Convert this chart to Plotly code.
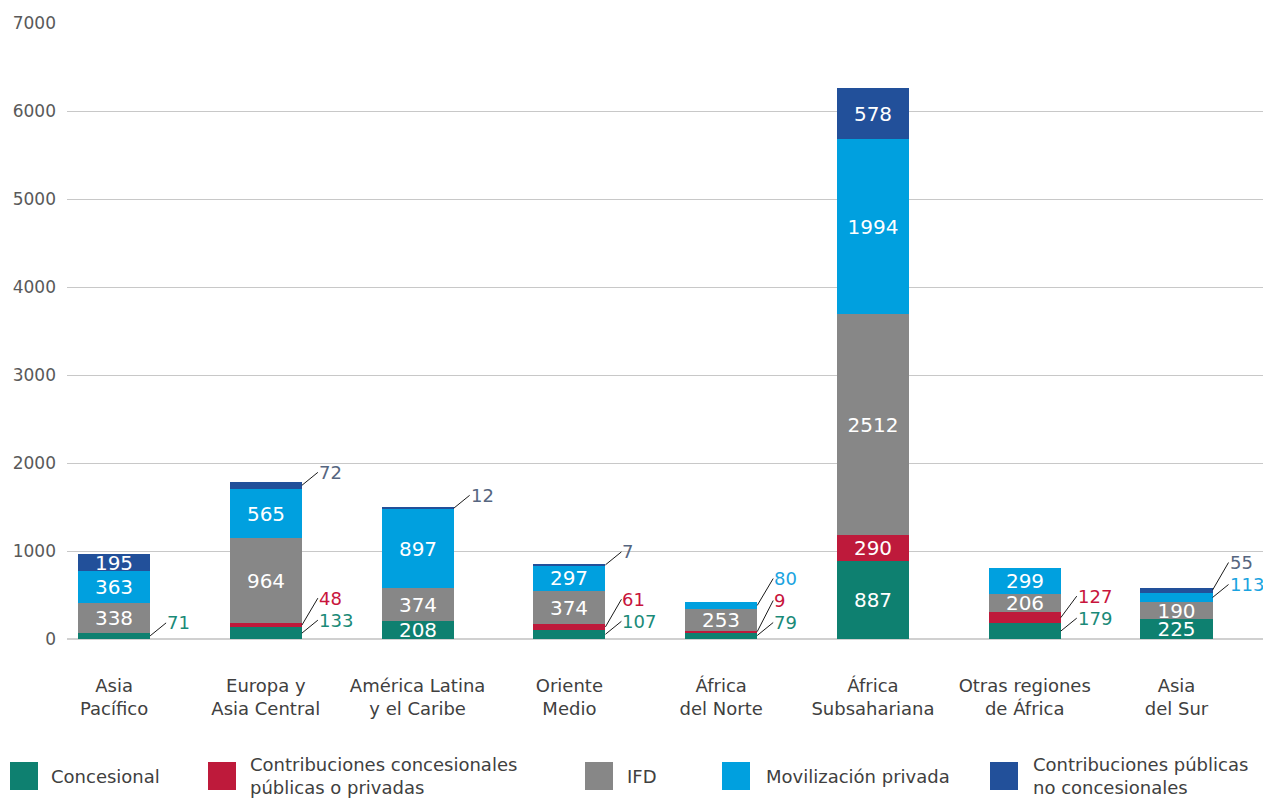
import plotly.graph_objects as go

# ---------------- data ----------------
categories = ["Asia<br>Pacífico", "Europa y<br>Asia Central", "América Latina<br>y el Caribe",
              "Oriente<br>Medio", "África<br>del Norte", "África<br>Subsahariana",
              "Otras regiones<br>de África", "Asia<br>del Sur"]
series_names = ["Concesional",
                "Contribuciones concesionales<br>públicas o privadas",
                "IFD",
                "Movilización privada",
                "Contribuciones públicas<br>no concesionales"]
concesional = [71, 133, 208, 107, 79, 887, 179, 225]
contrib_concesionales = [0, 48, 0, 61, 9, 290, 127, 0]
ifd = [338, 964, 374, 374, 253, 2512, 206, 190]
movilizacion_privada = [363, 565, 897, 297, 80, 1994, 299, 113]
contrib_no_concesionales = [195, 72, 12, 7, 0, 578, 0, 55]
y_ticks = [0, 1000, 2000, 3000, 4000, 5000, 6000, 7000]

series_values = [concesional, contrib_concesionales, ifd, movilizacion_privada, contrib_no_concesionales]

# ---------------- style ----------------
colors = ["#0e8070", "#be1a3b", "#878787", "#00a0df", "#22509a"]
label_colors = ["#1a8a78", "#c8143c", "#878787", "#1aa3e0", "#566680"]
FONT = "DejaVu Sans"
W, H = 1263, 798
ML, MR, MT, MB = 67, 0, 23, 159
PLOT_W = W - ML - MR
PLOT_H = H - MT - MB
Y_MAX = 7000
X_RANGE = [-0.31, 7.57]
BAR_W = 0.475
INSIDE_MIN = 185

x = list(range(len(categories)))

fig = go.Figure()
for k, (name, vals) in enumerate(zip(series_names, series_values)):
    texts = [str(v) if v >= INSIDE_MIN else "" for v in vals]
    fig.add_trace(go.Bar(
        x=x, y=vals, name=name, width=BAR_W,
        marker=dict(color=colors[k], line=dict(width=0)),
        text=texts, textposition="inside", insidetextanchor="middle",
        textangle=0, constraintext="none",
        insidetextfont=dict(family=FONT, size=20, color="white"),
        showlegend=False, hoverinfo="skip",
    ))

# ---------------- outside labels with leader lines ----------------
ppu = PLOT_H / Y_MAX
annotations = []
for i in x:
    base = 0
    items = []
    for k, vals in enumerate(series_values):
        v = vals[i]
        if 0 < v < INSIDE_MIN:
            items.append((base + v / 2, v, k))
        base += v
    items.sort()
    prev = -1e9
    for head, v, k in items:
        h = head * ppu
        L = max(h + 13, prev + 22)
        prev = L
        annotations.append(dict(
            x=i + BAR_W / 2, y=head, xref="x", yref="y",
            text=str(v), showarrow=True, arrowhead=0, arrowwidth=1,
            arrowcolor="#1a1a1a", ax=16, ay=-(L - h), standoff=0,
            xanchor="left", yanchor="middle", borderpad=0,
            font=dict(family=FONT, size=18, color=label_colors[k]),
        ))

# ---------------- custom legend ----------------
def px_to_paper_x(px):
    return (px - ML) / PLOT_W

def px_to_paper_y(py):
    return (H - MB - py) / PLOT_H

swatch_left = [10, 208, 585, 722, 990]
text_left = [49, 248, 625, 764, 1031]
leg_y = 776
sw = 28
shapes = []
for k, name in enumerate(series_names):
    shapes.append(dict(
        type="rect", xref="paper", yref="paper",
        x0=px_to_paper_x(swatch_left[k]), x1=px_to_paper_x(swatch_left[k] + sw),
        y0=px_to_paper_y(leg_y + sw / 2), y1=px_to_paper_y(leg_y - sw / 2),
        fillcolor=colors[k], line=dict(width=0),
    ))
    annotations.append(dict(
        x=px_to_paper_x(text_left[k]), y=px_to_paper_y(leg_y),
        xref="paper", yref="paper", text=name, showarrow=False,
        xanchor="left", yanchor="middle", align="left",
        font=dict(family=FONT, size=18, color="#404040"),
    ))

fig.update_layout(
    width=W, height=H,
    barmode="stack",
    plot_bgcolor="white", paper_bgcolor="white",
    margin=dict(l=ML, r=MR, t=MT, b=MB, pad=0),
    font=dict(family=FONT, color="#404040"),
    annotations=annotations,
    shapes=shapes,
    uniformtext=dict(minsize=20, mode="show"),
    bargap=0,
)
fig.update_xaxes(
    range=X_RANGE, tickmode="array", tickvals=x, ticktext=categories,
    showgrid=False, zeroline=False, showline=False, ticks="",
    tickfont=dict(family=FONT, size=18, color="#404040"),
    ticklabelstandoff=34, fixedrange=True,
)
fig.update_yaxes(
    range=[0, Y_MAX], tickmode="array", tickvals=y_ticks,
    showgrid=True, gridcolor="#c8c8c8", gridwidth=1.2,
    zeroline=True, zerolinecolor="#d0d0d0", zerolinewidth=2,
    showline=False, ticks="",
    tickfont=dict(family=FONT, size=17, color="#595959"),
    ticklabelstandoff=10, fixedrange=True,
)

fig.write_html(
    "out.html",
    config={"displayModeBar": False},
    post_script="document.body.style.margin='0';document.body.style.overflow='hidden';",
)
